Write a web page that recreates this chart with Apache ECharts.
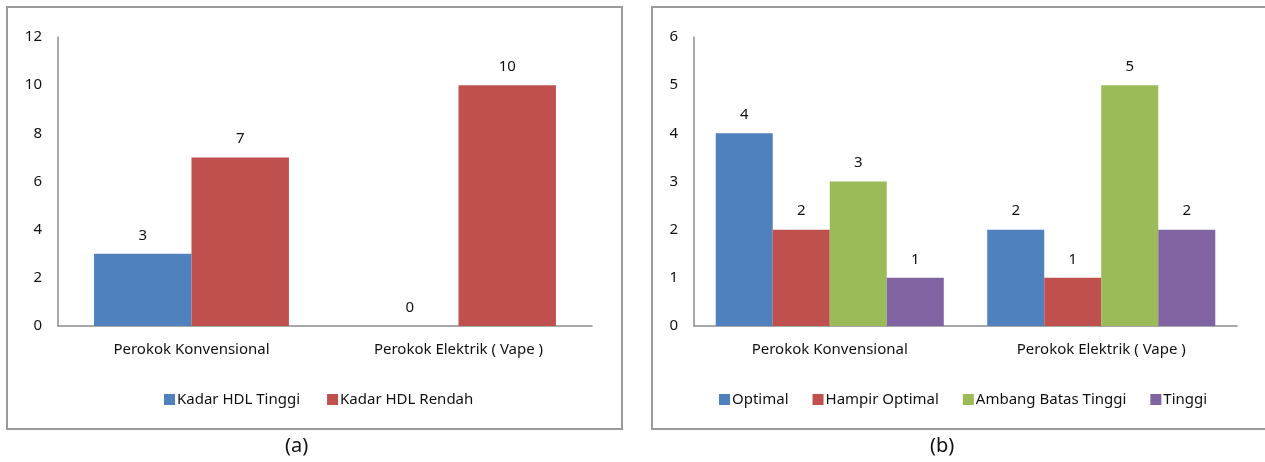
<!DOCTYPE html>
<html>
<head>
<meta charset="utf-8">
<script src="https://cdn.jsdelivr.net/npm/echarts@6/dist/echarts.min.js"></script>
<style>
  html, body { margin: 0; padding: 0; background: #fff; }
  #chart { width: 1265px; height: 462px; }
</style>
</head>
<body>
<div id="chart"></div>
<script>
// chart (a)
const categoriesA = ['Perokok Konvensional', 'Perokok Elektrik ( Vape )'];
const hdlTinggi = [3, 0];
const hdlRendah = [7, 10];
const ticksA = [0, 2, 4, 6, 8, 10, 12];

// chart (b)
const categoriesB = ['Perokok Konvensional', 'Perokok Elektrik ( Vape )'];
const optimal = [4, 2];
const hampirOptimal = [2, 1];
const ambangBatas = [3, 5];
const tinggi = [1, 2];
const ticksB = [0, 1, 2, 3, 4, 5, 6];

const font = "'Noto Sans', 'Open Sans', sans-serif";
const textColor = '#111';
const axisGray = '#8c8c8c';

const myChart = echarts.init(document.getElementById('chart'));

const yAxisBase = (ticks, gridIndex) => ({
  type: 'value',
  gridIndex,
  min: ticks[0],
  max: ticks[ticks.length - 1],
  interval: ticks[1] - ticks[0],
  splitLine: { show: false },
  axisTick: { show: false },
  axisLine: { show: true, lineStyle: { color: axisGray, width: 1.5 } },
  axisLabel: { color: textColor, fontFamily: font, fontSize: 15, margin: 16 }
});

const xAxisBase = (cats, gridIndex) => ({
  type: 'category',
  gridIndex,
  data: cats,
  axisTick: { show: false },
  axisLine: { show: true, lineStyle: { color: axisGray, width: 1.5 } },
  axisLabel: { color: textColor, fontFamily: font, fontSize: 15, margin: 16 }
});

const barSeries = (name, data, color, idx, gap) => ({
  name,
  type: 'bar',
  data,
  xAxisIndex: idx,
  yAxisIndex: idx,
  barGap: '0%',
  barCategoryGap: gap,
  itemStyle: { color },
  label: {
    show: true,
    position: 'top',
    distance: 11,
    color: textColor,
    fontFamily: font,
    fontSize: 15
  }
});

const option = {
  animation: false,
  graphic: [
    {
      type: 'rect',
      shape: { x: 7, y: 7, width: 615, height: 422 },
      style: { fill: 'none', stroke: '#9a9a9a', lineWidth: 2 }
    },
    {
      type: 'rect',
      shape: { x: 652, y: 7, width: 620, height: 422 },
      style: { fill: 'none', stroke: '#9a9a9a', lineWidth: 2 }
    },
    {
      type: 'text',
      left: 285, top: 436,
      style: { text: '(a)', fontSize: 20, fontFamily: font, fill: textColor }
    },
    {
      type: 'text',
      left: 930, top: 436,
      style: { text: '(b)', fontSize: 20, fontFamily: font, fill: textColor }
    }
  ],
  grid: [
    { left: 58, top: 37, width: 534, height: 289 },
    { left: 694, top: 37, width: 543, height: 289 }
  ],
  legend: [
    {
      data: ['Kadar HDL Tinggi', 'Kadar HDL Rendah'],
      left: 159, top: 387,
      itemWidth: 11, itemHeight: 11, itemGap: 27,
      icon: 'rect',
      textStyle: { color: textColor, fontFamily: font, fontSize: 15, padding: [0, 0, 0, -3] }
    },
    {
      data: ['Optimal', 'Hampir Optimal', 'Ambang Batas Tinggi', 'Tinggi'],
      left: 714, top: 387,
      itemWidth: 11, itemHeight: 11, itemGap: 24,
      icon: 'rect',
      textStyle: { color: textColor, fontFamily: font, fontSize: 15, padding: [0, 0, 0, -3] }
    }
  ],
  xAxis: [xAxisBase(categoriesA, 0), xAxisBase(categoriesB, 1)],
  yAxis: [yAxisBase(ticksA, 0), yAxisBase(ticksB, 1)],
  series: [
    barSeries('Kadar HDL Tinggi', hdlTinggi, '#4F81BD', 0, '27%'),
    barSeries('Kadar HDL Rendah', hdlRendah, '#C0504D', 0, '27%'),
    barSeries('Optimal', optimal, '#4F81BD', 1, '16%'),
    barSeries('Hampir Optimal', hampirOptimal, '#C0504D', 1, '16%'),
    barSeries('Ambang Batas Tinggi', ambangBatas, '#9BBB59', 1, '16%'),
    barSeries('Tinggi', tinggi, '#8064A2', 1, '16%')
  ]
};

myChart.setOption(option);
</script>
</body>
</html>
